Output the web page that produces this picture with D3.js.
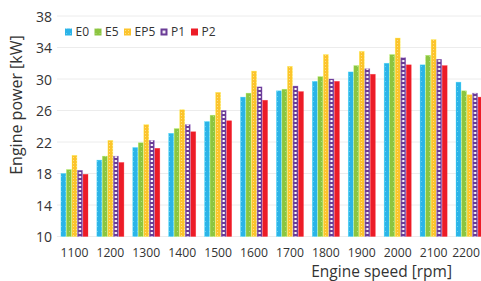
<!DOCTYPE html>
<html>
<head>
<meta charset="utf-8">
<script src="https://cdn.jsdelivr.net/npm/d3@7"></script>
<style>
  body { margin: 0; background: #fff; }
  svg text { font-family: "Open Sans", "Noto Sans", sans-serif; fill: #333; }
</style>
</head>
<body>
<div id="container"></div>
<script>
let w = 481;
let h = 281;

// data
let speeds = ["1100", "1200", "1300", "1400", "1500", "1600", "1700", "1800", "1900", "2000", "2100", "2200"];
let seriesNames = ["E0", "E5", "EP5", "P1", "P2"];
let e0  = [18.0, 19.7, 21.3, 23.1, 24.6, 27.7, 28.5, 29.7, 30.9, 32.0, 31.8, 29.6];
let e5  = [18.5, 20.2, 21.9, 23.7, 25.4, 28.2, 28.7, 30.3, 31.7, 33.1, 33.0, 28.5];
let ep5 = [20.3, 22.2, 24.2, 26.1, 28.3, 31.0, 31.6, 33.1, 33.5, 35.2, 35.0, 28.0];
let p1  = [18.4, 20.2, 22.2, 24.2, 26.0, 29.0, 29.1, 30.0, 31.3, 32.7, 32.5, 28.2];
let p2  = [17.9, 19.4, 21.2, 23.3, 24.7, 27.3, 28.4, 29.7, 30.6, 31.8, 31.7, 27.7];
let yTicks = [10, 14, 18, 22, 26, 30, 34, 38];

let allSeries = [e0, e5, ep5, p1, p2];
let colors = ["#2bb4e8", "#8cc540", "#fcc42c", "#6a3c96", "#ec1c27"];

let viz = d3.select("#container")
  .append("svg")
    .attr("width", w)
    .attr("height", h)
;

// scales
let xScale = d3.scaleBand().domain(speeds).range([56.5, 487.5]).paddingInner(0.23).paddingOuter(0.115);
let subScale = d3.scaleBand().domain(seriesNames).range([0, xScale.bandwidth()]);
let yScale = d3.scaleLinear().domain([10, 38]).range([236.5, 16]);

// patterns for the bar fills
let defs = viz.append("defs");

function dotPattern(id, base, dot) {
  let p = defs.append("pattern")
    .attr("id", id)
    .attr("patternUnits", "userSpaceOnUse")
    .attr("width", 4)
    .attr("height", 5);
  p.append("rect").attr("width", 4).attr("height", 5).attr("fill", base);
  p.append("rect").attr("x", 1).attr("y", 1).attr("width", 1).attr("height", 1).attr("fill", dot);
}
dotPattern("pE0", colors[0], "#6fcdf0");
dotPattern("pE5", colors[1], "#b2d986");

let pEP5 = defs.append("pattern")
  .attr("id", "pEP5")
  .attr("patternUnits", "userSpaceOnUse")
  .attr("width", 3)
  .attr("height", 3);
pEP5.append("rect").attr("width", 3).attr("height", 3).attr("fill", colors[2]);
pEP5.append("rect").attr("x", 1).attr("y", 1).attr("width", 1).attr("height", 1).attr("fill", "#fde08a");

// P1: a column of white squares down the middle of each purple bar
let barW = subScale.bandwidth();
let pP1 = defs.append("pattern")
  .attr("id", "pP1")
  .attr("patternUnits", "userSpaceOnUse")
  .attr("x", xScale(speeds[0]) + subScale("P1"))
  .attr("y", 0)
  .attr("width", xScale.step())
  .attr("height", 4);
pP1.append("rect").attr("width", xScale.step()).attr("height", 4).attr("fill", colors[3]);
pP1.append("rect").attr("x", barW / 2 - 1.1).attr("y", 0).attr("width", 2.2).attr("height", 2).attr("fill", "#fff");

// legend swatch version of the P1 fill
let pP1L = defs.append("pattern")
  .attr("id", "pP1L")
  .attr("patternUnits", "objectBoundingBox")
  .attr("patternContentUnits", "objectBoundingBox")
  .attr("width", 1)
  .attr("height", 1);
pP1L.append("rect").attr("width", 1).attr("height", 1).attr("fill", colors[3]);
pP1L.append("rect").attr("x", 0.3).attr("y", 0.3).attr("width", 0.4).attr("height", 0.4).attr("fill", "#fff");

let fills = ["url(#pE0)", "url(#pE5)", "url(#pEP5)", "url(#pP1)", colors[4]];
let legendFills = ["url(#pE0)", "url(#pE5)", "url(#pEP5)", "url(#pP1L)", colors[4]];

// grid
let grid = viz.append("g").attr("class", "grid");
grid.selectAll("line").data(yTicks).enter()
  .append("line")
    .attr("x1", 57)
    .attr("x2", w)
    .attr("y1", d => yScale(d))
    .attr("y2", d => yScale(d))
    .attr("stroke", "#ececec")
    .attr("stroke-width", 1)
;

// y axis
let yAxis = d3.axisLeft(yScale).tickValues(yTicks).tickSize(0).tickPadding(0);
let yAxisGroup = viz.append("g").attr("class", "yaxis")
  .attr("transform", "translate(52, 0)")
  .call(yAxis);
yAxisGroup.select(".domain").remove();
yAxisGroup.selectAll("text").attr("font-size", 14).attr("dy", "0.36em");

// x axis
let xAxis = d3.axisBottom(xScale).tickSize(0).tickPadding(0);
let xAxisGroup = viz.append("g").attr("class", "xaxis")
  .attr("transform", "translate(0, 248)")
  .call(xAxis);
xAxisGroup.select(".domain").remove();
xAxisGroup.selectAll("text").attr("font-size", 12.2).attr("dy", "0.71em");

// keep the last label inside the picture
xAxisGroup.selectAll(".tick").each(function(d) {
  let t = d3.select(this).select("text");
  let half = t.node().getComputedTextLength() / 2;
  let center = xScale(d) + xScale.bandwidth() / 2;
  let over = center + half - (w - 1);
  if (over > 0) t.attr("dx", -over);
});

// bars
let vizGroup = viz.append("g").attr("class", "vizGroup");
seriesNames.forEach(function(name, si) {
  vizGroup.append("g")
    .attr("class", "series")
    .selectAll("rect")
    .data(allSeries[si])
    .enter()
    .append("rect")
      .attr("x", (d, i) => xScale(speeds[i]) + subScale(name) + 0.3)
      .attr("y", d => yScale(d))
      .attr("width", barW - 0.6)
      .attr("height", d => yScale(10) - yScale(d))
      .attr("fill", fills[si])
      .attr("stroke", d3.color(colors[si]).brighter(0.6))
      .attr("stroke-opacity", 0.5)
      .attr("stroke-width", 0.6)
  ;
});

// legend
let legendX = [65, 94.5, 124, 160.5, 191];
let legend = viz.append("g").attr("class", "legend");
let items = legend.selectAll("g").data(seriesNames).enter()
  .append("g")
    .attr("transform", (d, i) => "translate(" + legendX[i] + ", 32)");
items.append("rect")
  .attr("x", 0)
  .attr("y", -3.5)
  .attr("width", 7)
  .attr("height", 7)
  .attr("fill", (d, i) => legendFills[i]);
items.append("text")
  .text(d => d)
  .attr("x", 10.5)
  .attr("y", 0)
  .attr("dy", "0.36em")
  .attr("font-size", 12);

// axis titles
viz.append("text")
  .text("Engine power [kW]")
  .attr("transform", "translate(22, 105) rotate(-90)")
  .attr("text-anchor", "middle")
  .attr("font-size", 16);

viz.append("text")
  .text("Engine speed [rpm]")
  .attr("x", 452)
  .attr("y", 276.5)
  .attr("text-anchor", "end")
  .attr("font-size", 15.5);
</script>
</body>
</html>
